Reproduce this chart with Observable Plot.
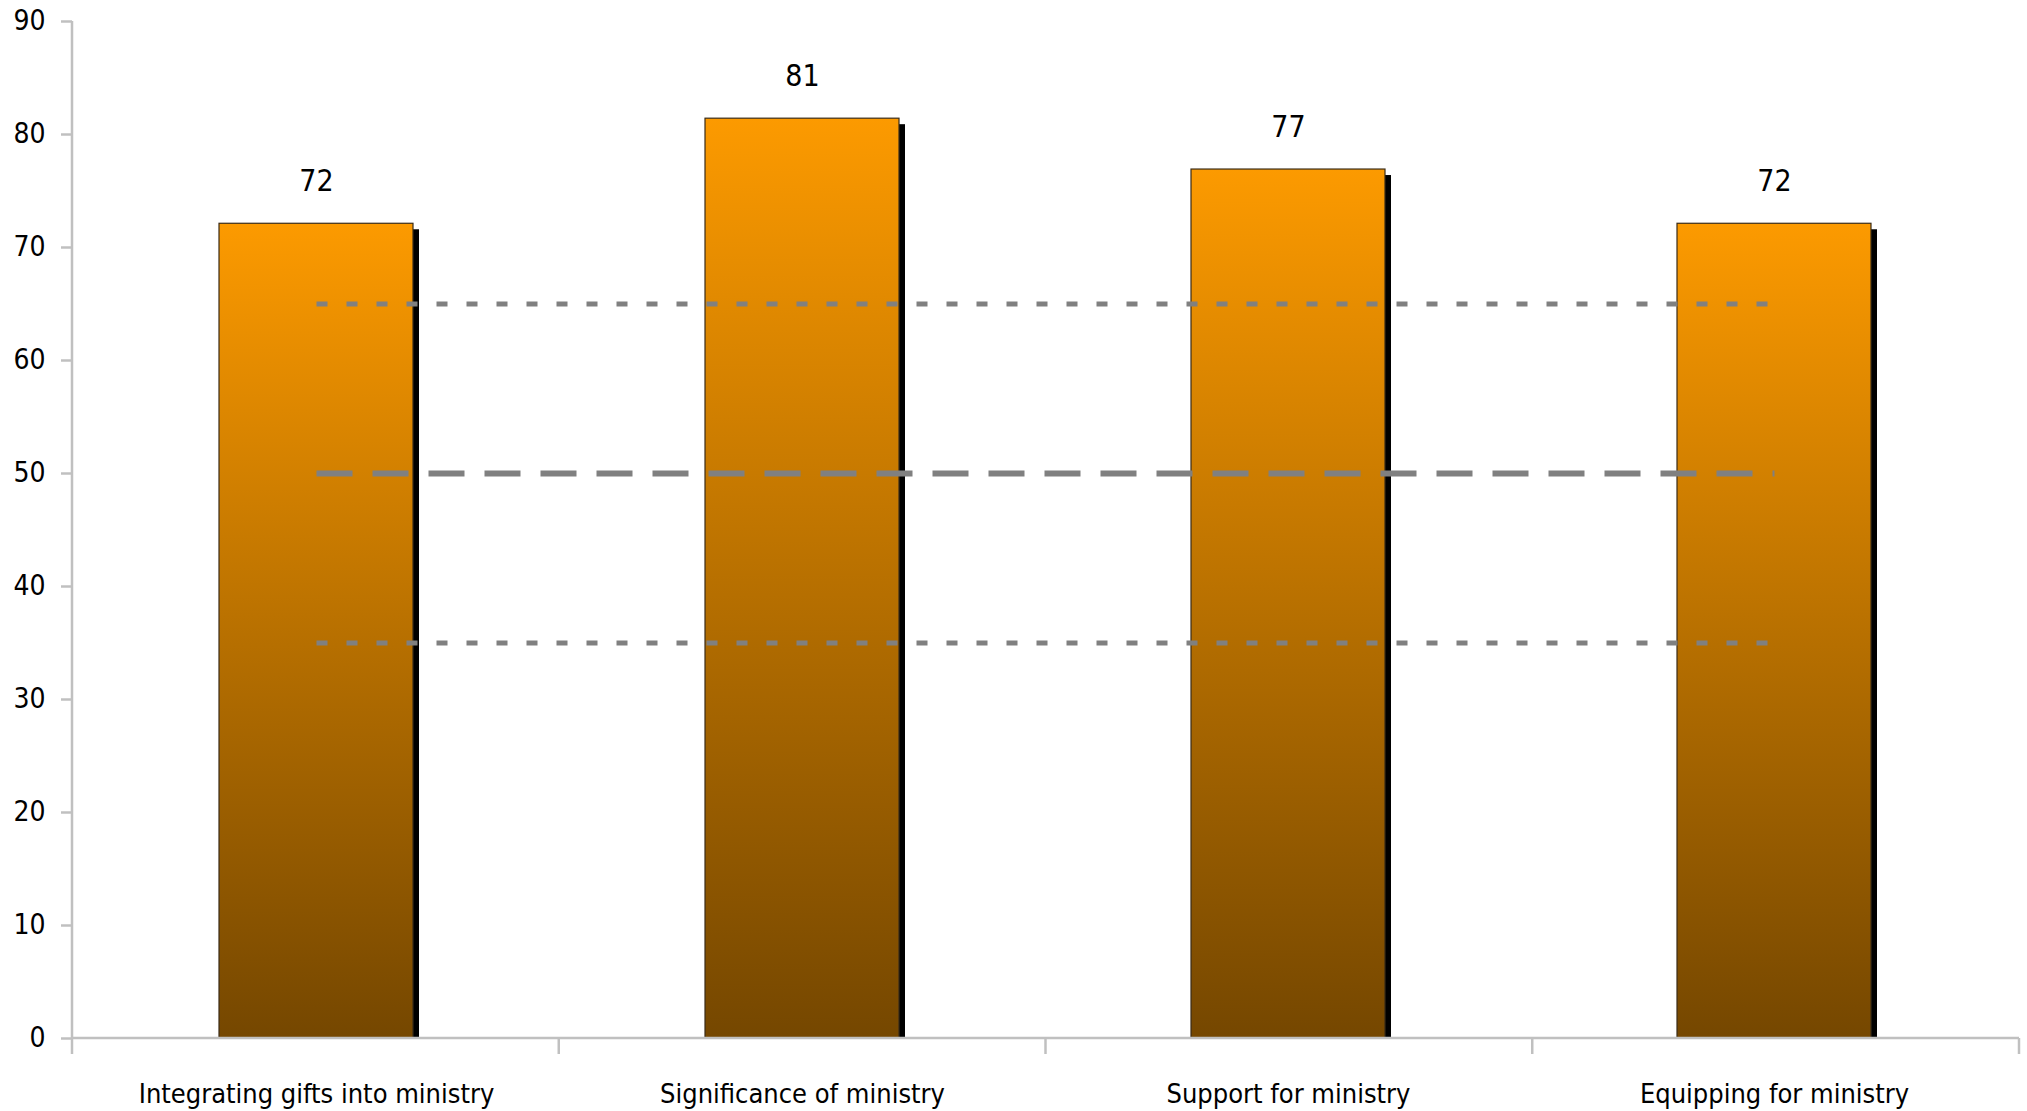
<!DOCTYPE html>
<html>
<head>
<meta charset="utf-8">
<script src="https://cdn.jsdelivr.net/npm/d3@7"></script>
<script src="https://cdn.jsdelivr.net/npm/@observablehq/plot@0.6"></script>
<style>
  html, body { margin: 0; padding: 0; background: #fff; }
  #chart svg { display: block; }
</style>
</head>
<body>
<div id="chart"></div>
<script>
// ---- data ----
const categories = ["Integrating gifts into ministry", "Significance of ministry", "Support for ministry", "Equipping for ministry"];
const values = [72.1, 81.4, 76.9, 72.1];
const valueLabels = ["72", "81", "77", "72"];
const yTicks = [0, 10, 20, 30, 40, 50, 60, 70, 80, 90];
const refLevels = [65, 50, 35];
const refKinds = ["dotted", "dashed", "dotted"];

// ---- build tables ----
const bars = categories.map((c, i) => ({cat: c, value: values[i], label: valueLabels[i]}));
const refStyles = {
  dotted: {strokeDasharray: "11,19", strokeWidth: 5},
  dashed: {strokeDasharray: "36,20", strokeWidth: 6}
};

const W = 2027, H = 1111;
const font = "'Liberation Sans Narrow', 'DejaVu Sans Condensed', 'Arial Narrow', sans-serif";

const gradientDefs = () => {
  const defs = d3.create("svg:defs");
  const g = defs.append("linearGradient")
    .attr("id", "barGrad").attr("x1", 0).attr("y1", 0).attr("x2", 0).attr("y2", 1);
  g.append("stop").attr("offset", "0%").attr("stop-color", "#FC9A00");
  g.append("stop").attr("offset", "100%").attr("stop-color", "#754700");
  return defs.node();
};

const axisLines = (index, scales, values, dims) => {
  const g = d3.create("svg:g")
    .attr("stroke", "#c0c0c0").attr("stroke-width", 2.5).attr("fill", "none");
  const left = dims.marginLeft;
  const right = dims.width - dims.marginRight;
  const y0 = scales.y(0);
  const yTop = scales.y(d3.max(yTicks));
  const n = categories.length;
  // y axis line
  g.append("line").attr("x1", left).attr("x2", left).attr("y1", yTop).attr("y2", y0);
  // x axis line
  g.append("line").attr("x1", left).attr("x2", right).attr("y1", y0).attr("y2", y0);
  // category boundary ticks
  for (let k = 0; k <= n; ++k) {
    const xb = left + k * (right - left) / n;
    g.append("line").attr("x1", xb).attr("x2", xb).attr("y1", y0).attr("y2", y0 + 16);
  }
  return g.node();
};

const marks = [
  gradientDefs,
  // shadow
  Plot.barY(bars, {x: "cat", y: "value", fill: "black", dx: 6, dy: 3, insetTop: 3, insetBottom: 3}),
  // bars
  Plot.barY(bars, {x: "cat", y: "value", fill: "url(#barGrad)", stroke: "#3a2c18", strokeWidth: 1.2})
];

refLevels.forEach((lvl, i) => {
  const st = refStyles[refKinds[i]];
  marks.push(Plot.lineY(categories.map(c => ({cat: c, level: lvl})), {
    x: "cat", y: "level", stroke: "#808080",
    strokeWidth: st.strokeWidth, strokeDasharray: st.strokeDasharray, strokeLinecap: "butt"
  }));
});

marks.push(
  Plot.text(bars, {x: "cat", y: "value", text: "label", dy: -42, fontSize: 30, fill: "black"}),
  Plot.axisY({ticks: yTicks, tickSize: 11, tickPadding: 16, fontSize: 28, stroke: "#c0c0c0", strokeWidth: 2.5, fill: "black", tickFormat: d => String(d)}),
  Plot.axisX({tickSize: 0, tickPadding: 45, fontSize: 27, fill: "black"}),
  axisLines
);

const chart = Plot.plot({
  width: W,
  height: H,
  marginLeft: 72,
  marginRight: 8,
  marginTop: 21,
  marginBottom: 73,
  style: {fontFamily: font, background: "#fff", color: "black"},
  x: {type: "band", domain: categories, paddingInner: 0.6, paddingOuter: 0.3, label: null},
  y: {domain: [0, 90], label: null},
  marks
});

document.getElementById("chart").appendChild(chart);
</script>
</body>
</html>
